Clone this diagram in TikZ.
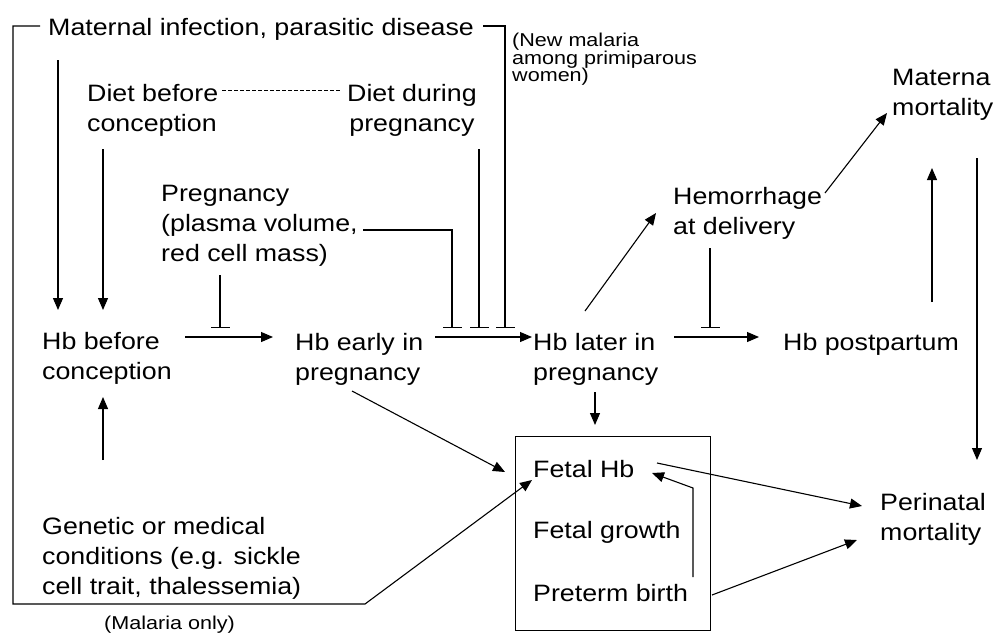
\documentclass[tikz,border=0pt]{standalone}
\usepackage{fontspec}
\setmainfont{Liberation Sans}[FakeStretch=1.13]
\newfontfamily\smallfam{Liberation Sans}[FakeStretch=1.16]
\usetikzlibrary{arrows.meta}
\begin{document}
\begin{tikzpicture}[x=1pt,y=-1pt,
  lbl/.style={anchor=north west, inner sep=0pt, align=left, font=\fontsize{23.7pt}{30pt}\selectfont},
  clbl/.style={lbl, align=center},
  slbl/.style={anchor=north west, inner sep=0pt, align=left, font=\smallfam\fontsize{18.6pt}{17.5pt}\selectfont},
  ln/.style={line width=1.1pt},
  arr/.style={ln, -{Triangle[length=12pt,width=10pt]}},
  inh/.style={ln, -{Bar[width=19pt,line width=1.1pt]}},
  dsh/.style={line width=0.9pt, dash pattern=on 4pt off 2pt}]
\useasboundingbox (0,0) rectangle (997,633);

% text nodes
\node[lbl] (mat) at (48,18) {Maternal infection, parasitic disease};
\node[lbl] (dbc) at (87,84) {Diet before\\conception};
\node[clbl] (ddp) at (347,84) {Diet during\\pregnancy};
\node[slbl] (newm) at (512,33) {(New malaria\\among primiparous\\women)};
\node[lbl] (preg) at (161,185) {Pregnancy\\(plasma volume,\\red cell mass)};
\node[lbl] (hbb) at (42,332) {Hb before\\conception};
\node[lbl] (hbe) at (295,333) {Hb early in\\pregnancy};
\node[lbl] (hbl) at (533,333) {Hb later in\\pregnancy};
\node[lbl] (hbp) at (783,333) {Hb postpartum};
\node[lbl] (hem) at (673,187) {Hemorrhage\\at delivery};
\node[lbl] (mm) at (892,69) {Materna\\mortality};
\node[lbl] (gen) at (42,517) {Genetic or medical\\conditions (e.g. sickle\\cell trait, thalessemia)};
\node[draw, ln, anchor=north west, minimum width=195pt, minimum height=194pt, inner sep=0pt] (box) at (515,436) {};
\node[lbl] (fhb) at (533,460) {Fetal Hb};
\node[lbl] (fgr) at (533,521) {Fetal growth};
\node[lbl] (ptb) at (533,584) {Preterm birth};
\node[lbl] (peri) at (880,493) {Perinatal\\mortality};
\node[slbl] (malo) at (104,616) {(Malaria only)};

% connector end points
\coordinate (bl1) at (40,26);
\coordinate (bl2) at (13,26);
\coordinate (bl3) at (13,604);
\coordinate (bl4) at (365,604);
\coordinate (fhbIn) at (532,480);
\coordinate (br1) at (483,26);
\coordinate (br2) at (505,26);
\coordinate (hbbIn1) at (58,310);
\coordinate (hbbIn2) at (103,310);
\coordinate (hbbIn3) at (103,397);
\coordinate (mOut) at (58,60);
\coordinate (dOut) at (103,149);
\coordinate (gOut) at (103,460);
\coordinate (pOut) at (220,275);
\coordinate (bar1) at (220,328);
\coordinate (a1s) at (185,337);
\coordinate (a1e) at (273,337);
\coordinate (p2s) at (363,230);
\coordinate (p2m) at (452,230);
\coordinate (bar2) at (452,328);
\coordinate (ddOut) at (479,149);
\coordinate (bar3) at (479,328);
\coordinate (bar4) at (505,328);
\coordinate (a2s) at (435,337);
\coordinate (a2e) at (532,337);
\coordinate (a3s) at (674,337);
\coordinate (a3e) at (759,337);
\coordinate (bar5) at (710,328);
\coordinate (hemIn) at (585,311);
\coordinate (hemIn2) at (656,213);
\coordinate (hemOut) at (710,248);
\coordinate (hemOut2) at (825,193);
\coordinate (mmIn) at (887,113);
\coordinate (hbpOut) at (932,302);
\coordinate (mmIn2) at (932,168);
\coordinate (mmOut) at (977,158);
\coordinate (periIn1) at (977,460);
\coordinate (hblOut) at (595,392);
\coordinate (boxIn) at (595,425);
\coordinate (hbeOut) at (352,391);
\coordinate (fhbIn2) at (505,472);
\coordinate (fhbOut) at (657,463);
\coordinate (periIn2) at (862,506);
\coordinate (ptbOut1) at (693,577);
\coordinate (ptbMid) at (693,488);
\coordinate (fhbIn3) at (652,473);
\coordinate (ptbOut2) at (712,595);
\coordinate (periIn3) at (857,540);
\coordinate (dashA) at (222,90);
\coordinate (dashB) at (340,90);

% connectors
\draw[arr] (bl1) -- (bl2) -- (bl3) -- (bl4) -- (fhbIn);
\draw[inh] (br1) -- (br2) -- (bar4);
\draw[arr] (mOut) -- (hbbIn1);
\draw[arr] (dOut) -- (hbbIn2);
\draw[arr] (gOut) -- (hbbIn3);
\draw[dsh] (dashA) -- (dashB);
\draw[inh] (pOut) -- (bar1);
\draw[arr] (a1s) -- (a1e);
\draw[inh] (p2s) -- (p2m) -- (bar2);
\draw[inh] (ddOut) -- (bar3);
\draw[arr] (a2s) -- (a2e);
\draw[arr] (hemIn) -- (hemIn2);
\draw[arr] (hemOut2) -- (mmIn);
\draw[inh] (hemOut) -- (bar5);
\draw[arr] (a3s) -- (a3e);
\draw[arr] (hbpOut) -- (mmIn2);
\draw[arr] (mmOut) -- (periIn1);
\draw[arr] (hblOut) -- (boxIn);
\draw[arr] (hbeOut) -- (fhbIn2);
\draw[arr] (fhbOut) -- (periIn2);
\draw[arr] (ptbOut1) -- (ptbMid) -- (fhbIn3);
\draw[arr] (ptbOut2) -- (periIn3);
\end{tikzpicture}
\end{document}
